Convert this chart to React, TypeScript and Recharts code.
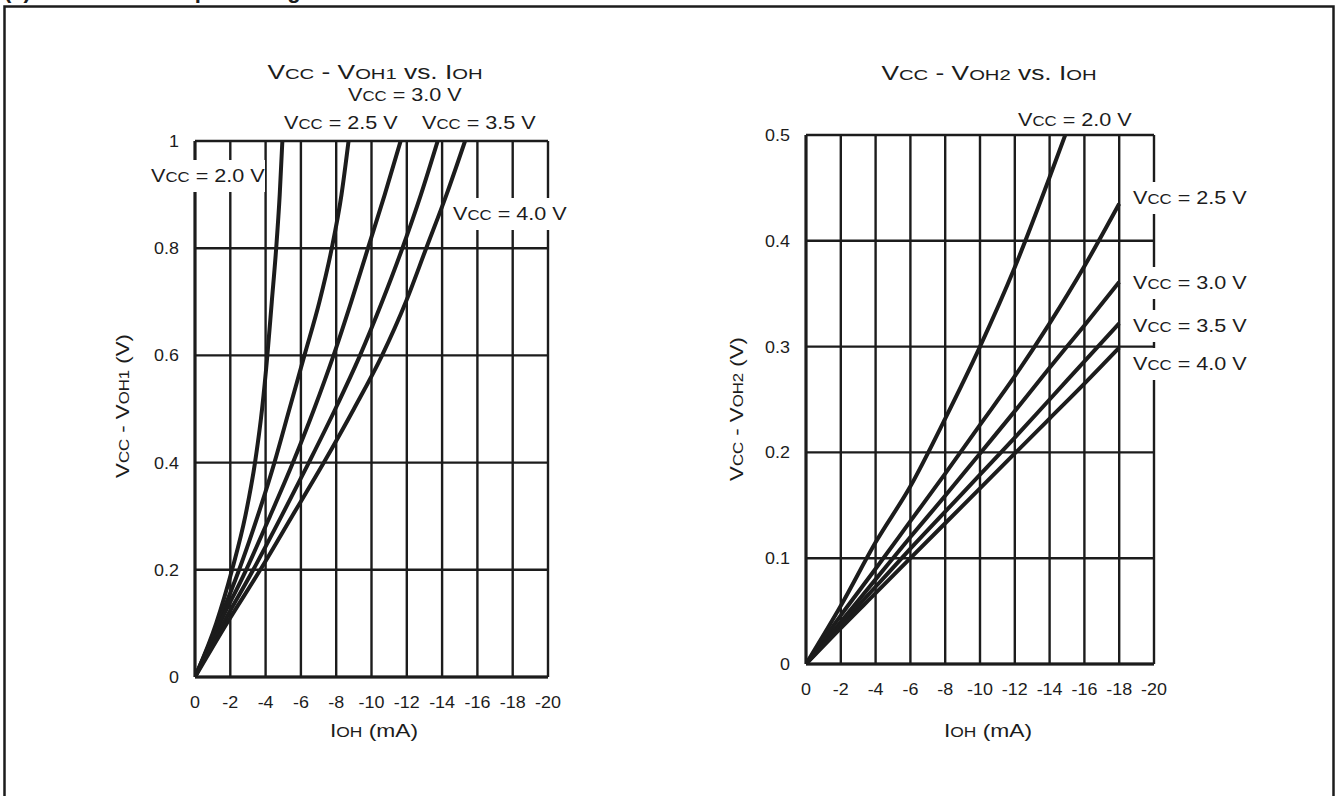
import React from 'react';
import { LineChart, Line, XAxis, YAxis, CartesianGrid } from 'recharts';

// IOH (mA) ticks and the two Y scales
const xTicks = [0, -2, -4, -6, -8, -10, -12, -14, -16, -18, -20];
const y1Ticks = [0, 0.2, 0.4, 0.6, 0.8, 1];
const y2Ticks = [0, 0.1, 0.2, 0.3, 0.4, 0.5];

// VCC - VOH1 vs. IOH
const voh1Vcc20 = [
  { i: 0, v: 0 }, { i: -1.2, v: 0.1 }, { i: -2.1, v: 0.2 }, { i: -2.85, v: 0.3 },
  { i: -3.4, v: 0.4 }, { i: -3.8, v: 0.5 }, { i: -4.1, v: 0.6 }, { i: -4.35, v: 0.7 },
  { i: -4.6, v: 0.8 }, { i: -4.8, v: 0.9 }, { i: -4.95, v: 1.0 },
];
const voh1Vcc25 = [
  { i: 0, v: 0 }, { i: -1.3, v: 0.1 }, { i: -2.5, v: 0.2 }, { i: -3.55, v: 0.3 },
  { i: -4.5, v: 0.4 }, { i: -5.35, v: 0.5 }, { i: -6.2, v: 0.6 }, { i: -7.05, v: 0.7 },
  { i: -7.75, v: 0.8 }, { i: -8.3, v: 0.9 }, { i: -8.7, v: 1.0 },
];
const voh1Vcc30 = [
  { i: 0, v: 0 }, { i: -1.4, v: 0.1 }, { i: -2.9, v: 0.2 }, { i: -4.25, v: 0.3 },
  { i: -5.55, v: 0.4 }, { i: -6.75, v: 0.5 }, { i: -7.85, v: 0.6 }, { i: -8.85, v: 0.7 },
  { i: -9.8, v: 0.8 }, { i: -10.75, v: 0.9 }, { i: -11.65, v: 1.0 },
];
const voh1Vcc35 = [
  { i: 0, v: 0 }, { i: -1.6, v: 0.1 }, { i: -3.3, v: 0.2 }, { i: -4.9, v: 0.3 },
  { i: -6.45, v: 0.4 }, { i: -7.95, v: 0.5 }, { i: -9.35, v: 0.6 }, { i: -10.6, v: 0.7 },
  { i: -11.75, v: 0.8 }, { i: -12.8, v: 0.9 }, { i: -13.75, v: 1.0 },
];
const voh1Vcc40 = [
  { i: 0, v: 0 }, { i: -1.8, v: 0.1 }, { i: -3.7, v: 0.2 }, { i: -5.5, v: 0.3 },
  { i: -7.3, v: 0.4 }, { i: -9.0, v: 0.5 }, { i: -10.6, v: 0.6 }, { i: -11.95, v: 0.7 },
  { i: -13.1, v: 0.8 }, { i: -14.25, v: 0.9 }, { i: -15.3, v: 1.0 },
];

// VCC - VOH2 vs. IOH
const voh2Vcc20 = [
  { i: 0, v: 0 }, { i: -2, v: 0.055 }, { i: -4, v: 0.115 }, { i: -6, v: 0.168 },
  { i: -8, v: 0.232 }, { i: -10, v: 0.3 }, { i: -12, v: 0.375 }, { i: -14, v: 0.46 },
  { i: -14.9, v: 0.5 },
];
const voh2Vcc25 = [
  { i: 0, v: 0 }, { i: -2, v: 0.046 }, { i: -4, v: 0.09 }, { i: -6, v: 0.135 },
  { i: -8, v: 0.18 }, { i: -10, v: 0.226 }, { i: -12, v: 0.272 }, { i: -14, v: 0.322 },
  { i: -16, v: 0.376 }, { i: -18, v: 0.435 },
];
const voh2Vcc30 = [
  { i: 0, v: 0 }, { i: -2, v: 0.04 }, { i: -4, v: 0.08 }, { i: -6, v: 0.12 },
  { i: -8, v: 0.159 }, { i: -10, v: 0.199 }, { i: -12, v: 0.239 }, { i: -14, v: 0.28 },
  { i: -16, v: 0.32 }, { i: -18, v: 0.361 },
];
const voh2Vcc35 = [
  { i: 0, v: 0 }, { i: -2, v: 0.037 }, { i: -4, v: 0.073 }, { i: -6, v: 0.109 },
  { i: -8, v: 0.144 }, { i: -10, v: 0.179 }, { i: -12, v: 0.214 }, { i: -14, v: 0.25 },
  { i: -16, v: 0.286 }, { i: -18, v: 0.322 },
];
const voh2Vcc40 = [
  { i: 0, v: 0 }, { i: -2, v: 0.034 }, { i: -4, v: 0.067 }, { i: -6, v: 0.1 },
  { i: -8, v: 0.133 }, { i: -10, v: 0.166 }, { i: -12, v: 0.199 }, { i: -14, v: 0.232 },
  { i: -16, v: 0.265 }, { i: -18, v: 0.299 },
];

const vccNames = ['2.0', '2.5', '3.0', '3.5', '4.0'];
const voh1Series = [voh1Vcc20, voh1Vcc25, voh1Vcc30, voh1Vcc35, voh1Vcc40];
const voh2Series = [voh2Vcc20, voh2Vcc25, voh2Vcc30, voh2Vcc35, voh2Vcc40];

const FONT = '"Liberation Sans", Arial, Helvetica, sans-serif';
const INK = '#1c1c1c';

// label placement (page px): left x, baseline y, white box width
const leftLabelPos = [
  { x: 151, y: 182, w: 118 },
  { x: 284, y: 129, w: 0 },
  { x: 348, y: 101, w: 0 },
  { x: 422, y: 129, w: 0 },
  { x: 453, y: 220, w: 118 },
];
const rightLabelPos = [
  { x: 1018, y: 126, w: 0 },
  { x: 1133, y: 204, w: 116 },
  { x: 1133, y: 289, w: 116 },
  { x: 1133, y: 332, w: 116 },
  { x: 1133, y: 370, w: 116 },
];

// text with small-caps style subscripts: [big, small, big, small ...]
const Mixed = ({ parts, big, small }: { parts: string[]; big: number; small: number }) => (
  <>
    {parts.map((p, k) => (
      <tspan key={k} fontSize={k % 2 === 0 ? big : small}>{p}</tspan>
    ))}
  </>
);

const Stretch = ({ x, y, sx, rotate = 0, anchor = 'start', children }: any) => (
  <g transform={`translate(${x},${y}) rotate(${rotate}) scale(${sx},1)`}>
    <text x={0} y={0} textAnchor={anchor} fontFamily={FONT} fill={INK}>{children}</text>
  </g>
);

const XTick = ({ x, y, payload }: any) => (
  <g transform={`translate(${x},${y + 31}) scale(1.12,1)`}>
    <text x={0} y={0} textAnchor="middle" fontFamily={FONT} fontSize={16} fill={INK}>
      {payload.value}
    </text>
  </g>
);

const YTick = ({ x, y, payload }: any) => (
  <g transform={`translate(${x},${y + 6}) scale(1.12,1)`}>
    <text x={0} y={0} textAnchor="end" fontFamily={FONT} fontSize={16} fill={INK}>
      {payload.value}
    </text>
  </g>
);

const Panel = ({ series, yTicks, yMax, left, top, margin }: any) => (
  <div style={{ position: 'absolute', left, top }}>
    <LineChart width={500} height={720} margin={margin}>
      <CartesianGrid stroke={INK} strokeWidth={2.4} />
      <XAxis
        type="number"
        dataKey="i"
        domain={[-20, 0]}
        reversed
        ticks={xTicks}
        interval={0}
        height={40}
        tickSize={0}
        tickMargin={0}
        axisLine={{ stroke: INK, strokeWidth: 3 }}
        tick={<XTick />}
        allowDataOverflow
      />
      <YAxis
        type="number"
        dataKey="v"
        domain={[0, yMax]}
        ticks={yTicks}
        interval={0}
        width={60}
        tickSize={0}
        tickMargin={16}
        axisLine={{ stroke: INK, strokeWidth: 3 }}
        tick={<YTick />}
        allowDataOverflow
      />
      {series.map((d: any[], k: number) => (
        <Line
          key={k}
          data={d}
          dataKey="v"
          type="monotone"
          stroke={INK}
          strokeWidth={4}
          dot={false}
          isAnimationActive={false}
        />
      ))}
    </LineChart>
  </div>
);

const VccLabel = ({ pos, name }: any) => (
  <g>
    {pos.w > 0 && <rect x={pos.x - 4} y={pos.y - 22} width={pos.w} height={32} fill="#fff" />}
    <Stretch x={pos.x} y={pos.y} sx={1.2}>
      <Mixed parts={['V', 'CC', ` = ${name} V`]} big={18} small={14} />
    </Stretch>
  </g>
);

export default function App() {
  return (
    <div style={{ position: 'absolute', left: 0, top: 0, width: 1340, height: 796, background: '#fff', overflow: 'hidden' }}>
      {/* plot left 195..548, top 141..677 */}
      <Panel
        series={voh1Series}
        yTicks={y1Ticks}
        yMax={1}
        left={100}
        top={40}
        margin={{ top: 101, right: 52, bottom: 43, left: 35 }}
      />
      {/* plot left 806..1154, top 135..664 */}
      <Panel
        series={voh2Series}
        yTicks={y2Ticks}
        yMax={0.5}
        left={700}
        top={40}
        margin={{ top: 95, right: 46, bottom: 56, left: 46 }}
      />
      <svg width={1340} height={796} style={{ position: 'absolute', left: 0, top: 0, pointerEvents: 'none' }}>
        <text x={4} y={-2} fontFamily={FONT} fontWeight="bold" fontSize={22} fill={INK}>
          (2) VCC - VOH Output Voltage Characteristics
        </text>
        <rect x={4.5} y={6.5} width={1329} height={800} fill="none" stroke={INK} strokeWidth={2.5} />

        <Stretch x={375} y={79} sx={1.35} anchor="middle">
          <Mixed parts={['V', 'CC', ' - V', 'OH1', ' vs. I', 'OH']} big={19.5} small={15} />
        </Stretch>
        <Stretch x={989} y={80} sx={1.35} anchor="middle">
          <Mixed parts={['V', 'CC', ' - V', 'OH2', ' vs. I', 'OH']} big={19.5} small={15} />
        </Stretch>

        <Stretch x={374} y={737} sx={1.2} anchor="middle">
          <Mixed parts={['I', 'OH', ' (mA)']} big={19} small={14.5} />
        </Stretch>
        <Stretch x={988} y={737} sx={1.2} anchor="middle">
          <Mixed parts={['I', 'OH', ' (mA)']} big={19} small={14.5} />
        </Stretch>

        <Stretch x={129} y={406} sx={1.2} rotate={-90} anchor="middle">
          <Mixed parts={['V', 'CC', ' - V', 'OH1', ' (V)']} big={18.5} small={14} />
        </Stretch>
        <Stretch x={743} y={409} sx={1.2} rotate={-90} anchor="middle">
          <Mixed parts={['V', 'CC', ' - V', 'OH2', ' (V)']} big={18.5} small={14} />
        </Stretch>

        {vccNames.map((n, k) => (
          <VccLabel key={'l' + k} pos={leftLabelPos[k]} name={n} />
        ))}
        {vccNames.map((n, k) => (
          <VccLabel key={'r' + k} pos={rightLabelPos[k]} name={n} />
        ))}
      </svg>
    </div>
  );
}
